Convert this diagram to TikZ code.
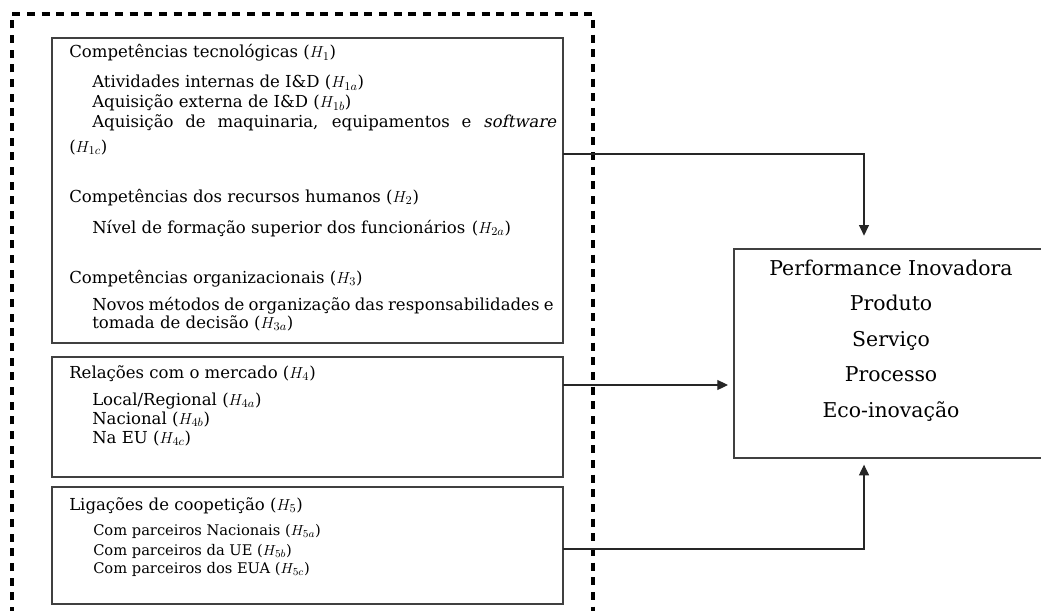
\documentclass[tikz,border=0pt]{standalone}
\usepackage{fontspec}
\setmainfont{DejaVu Serif}[ItalicFont={DejaVu Serif},ItalicFeatures={FakeSlant=0.2}]
\usetikzlibrary{arrows.meta}
\begin{document}
\begin{tikzpicture}[x=0.75pt,y=-0.75pt,
  box/.style={draw=black!75, line width=0.9pt, inner sep=0pt, outer sep=0pt, anchor=north west},
  hd/.style={anchor=base west, inner sep=0pt, font=\fontsize{12.4}{14}\selectfont},
  sm/.style={anchor=base west, inner sep=0pt, font=\fontsize{11}{13}\selectfont},
  perf/.style={anchor=base, inner sep=0pt, font=\fontsize{15.3}{18}\selectfont},
  conn/.style={draw=black!85, line width=0.8pt, -{Triangle[length=8pt,width=7.5pt]}},
  frame/.style={draw=black, line width=2.4pt, dash pattern=on 6pt off 5pt}
]
\useasboundingbox (0,0) rectangle (1041,610);
\clip (0,0) rectangle (1041,610);

% dashed frame (open at the bottom)
\coordinate (fl) at (12,615);
\coordinate (fr) at (593,615);
\draw[frame] (fl) -- (12,14) -- (593,14) -- (fr);

% boxes
\node[box, minimum width=383.25pt, minimum height=228.75pt] (b1) at (52,38) {};
\node[box, minimum width=383.25pt, minimum height=90pt] (b2) at (52,357) {};
\node[box, minimum width=383.25pt, minimum height=87.75pt] (b3) at (52,487) {};
\node[box, minimum width=240pt, minimum height=156.75pt] (perf) at (734,249) {};

% box 1 text
\node[hd] (h1) at (69,58) {Competências tecnológicas ($H_{1}$)};
\node[hd] (h1a) at (92,88) {Atividades internas de I\&D ($H_{1a}$)};
\node[hd] (h1b) at (92,108) {Aquisição externa de I\&D ($H_{1b}$)};
\node[hd] (h1c) at (92,127) {\makebox[348pt][s]{Aquisição de maquinaria, equipamentos e \textit{software}}};
\node[hd] (h1cc) at (69,152) {($H_{1c}$)};
\node[hd] (h2) at (69,202) {Competências dos recursos humanos ($H_{2}$)};
\node[hd] (h2a) at (92,233) {Nível de formação superior dos funcionários\hspace{0.4em}($H_{2a}$)};
\node[hd] (h3) at (69,283) {Competências organizacionais ($H_{3}$)};
\node[hd] (h3a) at (92,310) {\makebox[346pt][s]{Novos métodos de organização das responsabilidades e}};
\node[hd] (h3b) at (92,328) {tomada de decisão ($H_{3a}$)};

% box 2 text
\node[hd] (h4) at (69,378) {Relações com o mercado ($H_{4}$)};
\node[hd] (h4a) at (92,405) {Local/Regional ($H_{4a}$)};
\node[hd] (h4b) at (92,424) {Nacional ($H_{4b}$)};
\node[hd] (h4c) at (92,443) {Na EU ($H_{4c}$)};

% box 3 text
\node[hd] (h5) at (69,510) {Ligações de coopetição ($H_{5}$)};
\node[sm] (h5a) at (93,535) {Com parceiros Nacionais ($H_{5a}$)};
\node[sm] (h5b) at (93,555) {Com parceiros da UE ($H_{5b}$)};
\node[sm] (h5c) at (93,573) {Com parceiros dos EUA ($H_{5c}$)};

% performance box text
\node[perf] (p0) at (891,275) {Performance Inovadora};
\node[perf] (p1) at (891,310) {Produto};
\node[perf] (p2) at (891,346) {Serviço};
\node[perf] (p3) at (891,381) {Processo};
\node[perf] (p4) at (891,417) {Eco-inovação};

% connectors
\coordinate (t1) at (864,154);
\coordinate (m1) at (700,385);
\coordinate (t3) at (864,549);
\draw[conn, shorten >=10pt] (b1.east |- t1) -- (t1) -- (t1 |- perf.north);
\draw[conn, shorten >=4.5pt] (b2.east |- m1) -- (perf.west |- m1);
\draw[conn, shorten >=5pt] (b3.east |- t3) -- (t3) -- (t3 |- perf.south);
\end{tikzpicture}
\end{document}
